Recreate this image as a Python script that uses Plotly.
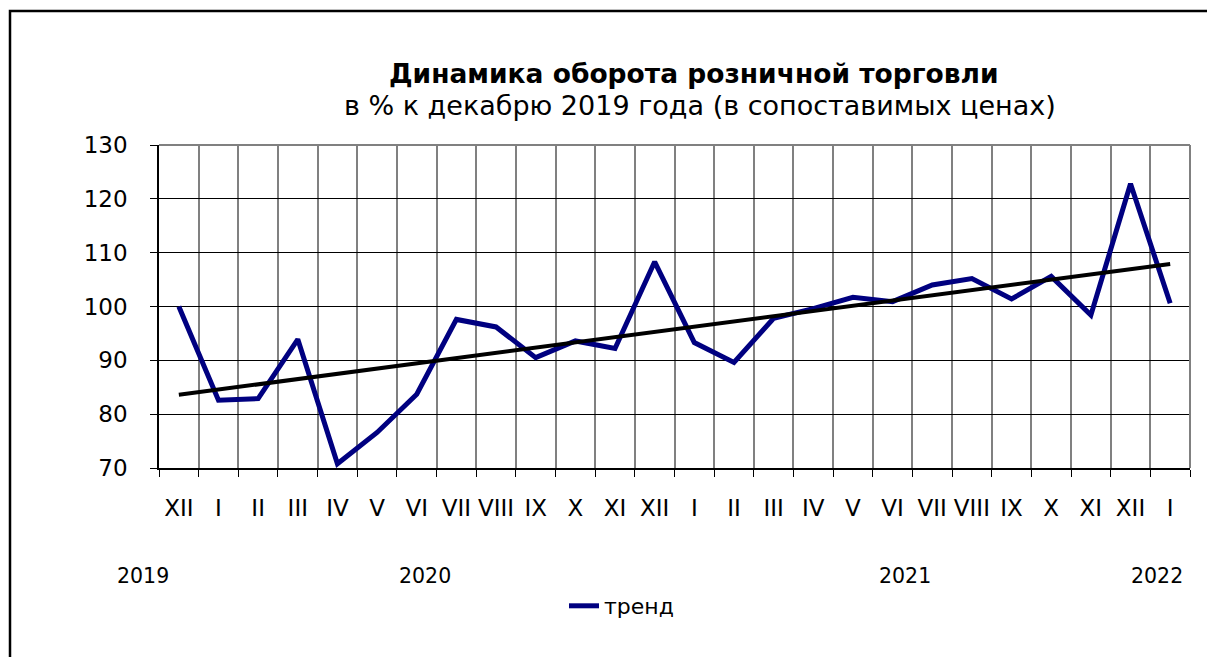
import plotly.graph_objects as go

# ---- data ----
months = ["XII", "I", "II", "III", "IV", "V", "VI", "VII", "VIII", "IX", "X", "XI", "XII",
          "I", "II", "III", "IV", "V", "VI", "VII", "VIII", "IX", "X", "XI", "XII", "I"]
turnover = [100.0, 82.6, 82.9, 93.9, 70.8, 76.6, 83.7, 97.6, 96.2, 90.5, 93.6, 92.2, 108.3,
            93.3, 89.6, 97.8, 99.6, 101.7, 100.9, 104.0, 105.2, 101.4, 105.6, 98.4, 122.8, 100.6]
trend_ends = [83.6, 107.9]
years = ["2019", "2020", "2021", "2022"]
series_name = "тренд"
title = "Динамика оборота розничной торговли"
subtitle = "в % к декабрю 2019 года (в сопоставимых ценах)"

# ---- layout geometry (page pixels; page body has an 8px margin) ----
OFF = 8
W, H = 1215 - OFF, 657 - OFF
PX0, PX1, PY0, PY1 = 159, 1190, 145, 468      # plot area in page pixels
L, T = PX0 - OFF, PY0 - OFF
R, B = W - (PX1 - OFF), H - (PY1 - OFF)
PW, PH = PX1 - PX0, PY1 - PY0


def px_x(p):
    return (p - PX0) / PW


def px_y(p):
    return (PY1 - p) / PH


year_px = [143, 425, 905, 1157]
FONT = "DejaVu Sans, Verdana, sans-serif"

x_idx = list(range(len(months)))

fig = go.Figure()
fig.add_trace(go.Scatter(
    x=x_idx, y=turnover, mode="lines", name=series_name,
    line=dict(color="#000080", width=5), showlegend=True,
))
fig.add_trace(go.Scatter(
    x=[x_idx[0], x_idx[-1]], y=trend_ends, mode="lines",
    line=dict(color="black", width=4), showlegend=False,
))

fig.update_layout(
    width=W, height=H,
    margin=dict(l=L, r=R, t=T, b=B, pad=0),
    paper_bgcolor="white", plot_bgcolor="white",
    font=dict(family=FONT, size=22, color="black"),
    showlegend=True,
    legend=dict(orientation="h", x=px_x(564), xanchor="left",
                y=px_y(606), yanchor="middle",
                font=dict(family=FONT, size=22, color="black"),
                bgcolor="rgba(0,0,0,0)"),
    xaxis=dict(
        range=[-0.5, len(months) - 0.5],
        tickmode="array", tickvals=x_idx, ticktext=months,
        ticks="", showgrid=False, zeroline=False,
        showline=True, linecolor="black", linewidth=1.5,
        tickfont=dict(family=FONT, size=23, color="black"),
        ticklabelstandoff=19,
        minor=dict(tickmode="linear", tick0=-0.5, dtick=1, showgrid=True,
                   gridcolor="#808080", gridwidth=2, ticks="outside",
                   ticklen=7, tickcolor="black", tickwidth=1),
    ),
    yaxis=dict(
        range=[70, 130], tickmode="linear", tick0=70, dtick=10,
        showgrid=True, gridcolor="black", gridwidth=1, zeroline=False,
        showline=True, linecolor="black", linewidth=1.5,
        ticks="outside", ticklen=7, tickcolor="black",
        tickfont=dict(family=FONT, size=23, color="black"),
        ticklabelstandoff=18,
    ),
)

shapes = [
    dict(type="line", xref="paper", yref="paper", x0=0, x1=1, y0=1, y1=1,
         line=dict(color="#808080", width=2), layer="above"),
    dict(type="line", xref="paper", yref="paper", x0=1, x1=1, y0=0, y1=1,
         line=dict(color="#808080", width=2), layer="above"),
    dict(type="rect", xref="paper", yref="paper",
         x0=px_x(10), x1=px_x(1240), y0=px_y(690), y1=px_y(11),
         line=dict(color="black", width=2.5), fillcolor="rgba(0,0,0,0)", layer="above"),
]
fig.update_layout(shapes=shapes)

ann = [
    dict(text="<b>" + title + "</b>", x=px_x(694), y=px_y(74), xref="paper", yref="paper",
         xanchor="center", yanchor="middle", showarrow=False,
         font=dict(family=FONT, size=26.5, color="black")),
    dict(text=subtitle, x=px_x(700), y=px_y(106), xref="paper", yref="paper",
         xanchor="center", yanchor="middle", showarrow=False,
         font=dict(family=FONT, size=27, color="black")),
]
for lab, p in zip(years, year_px):
    ann.append(dict(text=lab, x=px_x(p), y=px_y(576), xref="paper", yref="paper",
                    xanchor="center", yanchor="middle", showarrow=False,
                    font=dict(family=FONT, size=20.5, color="black")))
fig.update_layout(annotations=ann)

fig.write_html("out.html")
